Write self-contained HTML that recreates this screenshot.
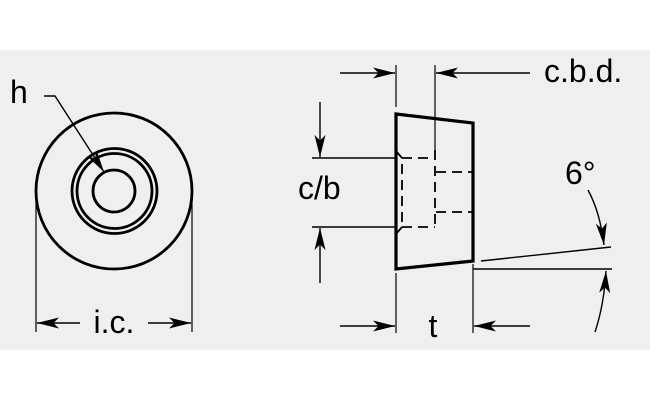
<!DOCTYPE html>
<html><head><style>body{margin:0;background:#fff}svg{display:block}</style></head><body>
<svg width="650" height="403" viewBox="0 0 650 403" xmlns="http://www.w3.org/2000/svg">
<defs><marker id="a" viewBox="0 0 20 10" refX="20" refY="5" markerWidth="22" markerHeight="11" markerUnits="userSpaceOnUse" orient="auto"><path d="M0,0 L20,5 L0,10 L5,5 Z" fill="#000"/></marker></defs>
<rect x="0" y="50" width="650" height="300" fill="#efefef"/>
<g fill="none" stroke="#000">
<circle cx="114" cy="191" r="78" stroke-width="2.8"/>
<circle cx="114.5" cy="191" r="42.5" stroke-width="2.8"/>
<circle cx="114.5" cy="191" r="37.5" stroke-width="2.8"/>
<circle cx="114" cy="191" r="21" stroke-width="2.8"/>
<path d="M44,96 H55 L104,172" stroke-width="1.4" marker-end="url(#a)"/>
<line x1="36" y1="191" x2="36" y2="332" stroke-width="1.2"/>
<line x1="192" y1="191" x2="192" y2="332" stroke-width="1.2"/>
<line x1="80" y1="323" x2="37" y2="323" stroke-width="1.4" marker-end="url(#a)"/>
<line x1="148" y1="323" x2="191" y2="323" stroke-width="1.4" marker-end="url(#a)"/>
<path d="M396,114 L473,123 L473,261 L396,269 Z" stroke-width="3.2"/>
<line x1="396" y1="65" x2="396" y2="107" stroke-width="1.2"/>
<line x1="435" y1="65" x2="435" y2="150" stroke-width="1.2"/>
<line x1="340" y1="73" x2="395" y2="73" stroke-width="1.4" marker-end="url(#a)"/>
<line x1="530" y1="73" x2="436" y2="73" stroke-width="1.4" marker-end="url(#a)"/>
<line x1="312" y1="158" x2="396" y2="158" stroke-width="1.4"/>
<line x1="312" y1="227" x2="396" y2="227" stroke-width="1.4"/>
<line x1="320" y1="102" x2="320" y2="157" stroke-width="1.4" marker-end="url(#a)"/>
<line x1="320" y1="283" x2="320" y2="228" stroke-width="1.4" marker-end="url(#a)"/>
<g stroke-width="1.8" stroke-dasharray="10,6">
<line x1="402" y1="158" x2="435" y2="158"/>
<line x1="402" y1="227" x2="435" y2="227"/>
<line x1="402" y1="164" x2="402" y2="222"/>
<line x1="435" y1="150" x2="435" y2="227"/>
<line x1="436" y1="172" x2="473" y2="172"/>
<line x1="436" y1="212" x2="473" y2="212"/>
</g>
<path d="M396,151 L402,158 M396,234 L402,227" stroke-width="1.8"/>
<line x1="396" y1="273" x2="396" y2="333" stroke-width="1.2"/>
<line x1="473" y1="264" x2="473" y2="333" stroke-width="1.2"/>
<line x1="340" y1="326" x2="395" y2="326" stroke-width="1.4" marker-end="url(#a)"/>
<line x1="530" y1="326" x2="474" y2="326" stroke-width="1.4" marker-end="url(#a)"/>
<line x1="481" y1="261" x2="611" y2="247" stroke-width="1.4"/>
<line x1="473" y1="269" x2="612" y2="269" stroke-width="1.4"/>
<path d="M588,190 Q600,212 604,245" stroke-width="1.4" marker-end="url(#a)"/>
<path d="M595,332 Q604,305 606,271" stroke-width="1.4" marker-end="url(#a)"/>
</g>
<g font-family="Liberation Sans, sans-serif" font-size="32" fill="#000">
<text x="10" y="103">h</text>
<text x="114" y="333" text-anchor="middle">i.c.</text>
<text x="544" y="82">c.b.d.</text>
<text x="298" y="199">c/b</text>
<text x="433" y="337" text-anchor="middle">t</text>
<text x="565" y="184">6°</text>
</g>
</svg>
</body></html>
